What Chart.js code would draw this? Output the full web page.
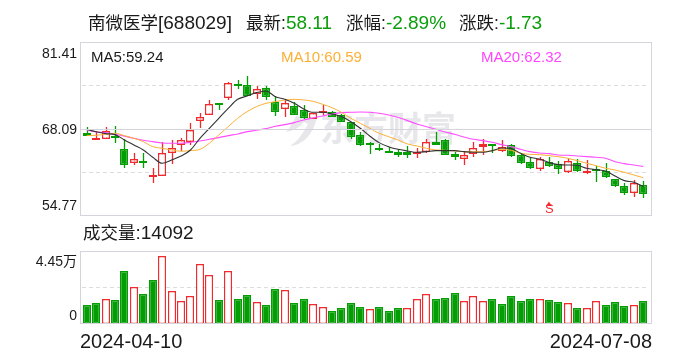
<!DOCTYPE html>
<html>
<head>
<meta charset="utf-8">
<script src="https://cdn.jsdelivr.net/npm/chart.js@4"></script>
<style>
html, body { margin: 0; padding: 0; background: #fff; }
#wrap { position: relative; width: 688px; height: 360px; overflow: hidden; font-family: "Liberation Sans", "Noto Sans CJK SC", sans-serif; color: #1a1a1a; }
#wrap canvas { position: absolute; left: 0; top: 0; }
#wrap span { position: absolute; white-space: nowrap; line-height: 20px; }
.head { font-size: 17.5px; top: 13px; }
.head b { font-size: 19px; font-weight: normal; }
.ma { font-size: 15px; top: 47px; }
b.up { color: #0a9e0a; }
</style>
</head>
<body>
<div id="wrap">
  <canvas id="priceChart" width="688" height="360"></canvas>
  <canvas id="volumeChart" width="688" height="360"></canvas>
  <span class="head" style="left:88px">南微医学<b>[688029]</b></span>
  <span class="head" style="left:246px">最新:<b class="up">58.11</b></span>
  <span class="head" style="left:346px">涨幅:<b class="up">-2.89%</b></span>
  <span class="head" style="left:459px">涨跌:<b class="up">-1.73</b></span>
  <span class="ma" style="left:91px;color:#1a1a1a">MA5:59.24</span>
  <span class="ma" style="left:281px;color:#fbb034">MA10:60.59</span>
  <span class="ma" style="left:481px;color:#ff45ff">MA20:62.32</span>
  <span class="head" style="left:83px;top:223px">成交量<b>:14092</b></span>
</div>
<script>
var dates = ['2024-04-10','2024-04-11','2024-04-12','2024-04-15','2024-04-16','2024-04-17','2024-04-18','2024-04-19','2024-04-22','2024-04-23','2024-04-24','2024-04-25','2024-04-26','2024-04-29','2024-04-30',
  '2024-05-06','2024-05-07','2024-05-08','2024-05-09','2024-05-10','2024-05-13','2024-05-14','2024-05-15','2024-05-16','2024-05-17','2024-05-20','2024-05-21','2024-05-22','2024-05-23','2024-05-24','2024-05-27','2024-05-28','2024-05-29','2024-05-30','2024-05-31',
  '2024-06-03','2024-06-04','2024-06-05','2024-06-06','2024-06-07','2024-06-11','2024-06-12','2024-06-13','2024-06-14','2024-06-17','2024-06-18','2024-06-19','2024-06-20','2024-06-21','2024-06-24','2024-06-25','2024-06-26','2024-06-27','2024-06-28',
  '2024-07-01','2024-07-02','2024-07-03','2024-07-04','2024-07-05','2024-07-08'];

var openPrices = [67.43,66.50,66.50,66.97,64.96,62.91,63.17,60.75,60.81,64.45,65.58,66.14,69.38,70.20,72.10,72.92,75.08,74.87,73.43,74.41,
  72.30,71.12,71.64,71.02,69.58,70.56,70.66,70.25,69.12,67.12,65.89,65.17,64.66,64.55,64.55,64.19,64.60,66.09,66.40,64.25,
  63.42,64.19,65.27,65.79,64.66,65.58,64.04,62.96,61.99,63.06,62.65,61.52,62.81,61.47,61.88,61.68,60.40,59.32,58.29,59.47];
var closePrices = [67.02,66.71,67.74,66.76,62.60,63.42,63.06,60.96,64.35,65.12,66.35,67.94,69.89,71.89,71.84,75.13,74.97,73.18,74.20,72.97,
  70.76,72.05,70.30,69.79,70.51,70.82,70.00,69.22,66.91,65.63,65.68,64.91,64.55,64.14,64.14,64.50,66.04,65.68,64.14,63.83,
  64.04,65.12,65.73,65.68,65.37,63.99,62.91,62.14,63.42,62.45,61.88,63.22,61.68,61.58,61.68,60.75,59.37,58.29,59.83,58.11];
var highPrices = [68.35,67.84,68.35,68.56,66.50,64.35,64.45,62.04,66.14,66.40,66.66,68.97,70.56,72.51,72.10,75.38,75.64,76.26,74.72,74.72,
  73.18,72.56,72.20,71.79,70.51,71.79,70.87,70.46,69.22,67.58,66.14,65.79,65.27,64.96,65.48,65.22,66.55,67.63,66.50,64.60,
  64.60,66.09,66.55,65.79,66.40,65.79,64.19,63.83,63.83,63.83,63.17,63.58,63.47,63.27,62.40,62.81,60.40,59.73,60.24,60.09];
var lowPrices = [67.02,66.50,66.50,65.99,62.14,62.55,62.04,59.83,60.81,62.71,64.71,65.58,68.25,70.20,71.02,72.56,74.25,73.18,72.77,72.56,
  70.10,70.00,70.20,69.58,69.58,70.25,69.89,69.12,66.55,65.48,64.25,64.71,64.45,63.83,63.68,63.68,64.45,65.63,64.09,63.32,
  62.55,63.73,64.09,64.45,64.60,63.73,62.71,61.94,61.68,62.29,61.17,61.37,61.52,61.11,59.98,60.50,59.21,57.98,57.67,57.52];

var ma5 = [68.04,67.68,67.38,67.22,66.40,65.63,64.86,63.73,62.81,63.32,63.94,64.86,66.66,68.20,69.74,71.28,72.66,73.18,73.69,73.95,
  73.07,72.66,72.05,71.17,70.66,70.66,70.40,70.00,69.22,68.20,67.02,65.99,65.37,64.96,64.71,64.50,64.60,64.76,64.76,64.76,
  64.60,64.50,64.50,64.76,65.17,65.07,64.35,63.73,63.47,62.91,62.60,62.55,62.50,62.04,61.83,61.63,60.86,60.14,59.88,59.24];
var ma10 = [67.07,67.12,67.27,67.43,67.07,66.66,66.14,65.37,65.12,64.86,64.66,64.76,64.96,65.89,67.17,68.45,69.74,70.76,71.53,72.05,
  72.30,72.56,72.66,72.56,72.35,71.89,71.38,70.66,69.74,68.97,68.20,67.43,66.91,66.40,65.79,65.48,65.12,64.86,64.81,64.71,
  64.60,64.60,64.60,64.76,64.96,64.81,64.35,64.19,64.14,63.99,63.83,63.58,63.22,62.81,62.45,62.04,61.78,61.42,61.01,60.59];
var ma20 = [67.94,67.63,67.53,67.27,66.97,66.66,66.35,66.14,65.94,65.89,65.89,66.04,66.25,66.50,66.76,67.07,67.32,67.68,67.89,68.15,
  68.51,68.76,69.07,69.48,69.79,70.10,70.40,70.61,70.66,70.71,70.66,70.51,70.25,69.89,69.38,68.86,68.45,68.04,67.63,67.27,
  66.86,66.50,66.30,66.04,65.68,65.37,64.96,64.60,64.40,64.30,64.09,64.04,63.94,63.83,63.73,63.58,63.06,62.76,62.55,62.32];

// volume in shares, 1 = red bar, 0 = green bar
var volumes = [11232,12480,15392,14352,32448,22256,18096,26832,41600,20384,14144,17264,36608,29744,14352,32240,14976,17472,13520,11232,
  21216,21008,12480,14976,12272,10400,7488,9360,12480,9984,9152,9984,7488,9360,9776,15392,18512,14976,15600,18720,
  14144,17264,14144,14976,11856,16848,13728,14976,15392,14352,13104,12896,9360,9776,14144,11232,13104,10608,11648,14092];
var volumeUp = [0,0,1,0,0,1,0,0,1,1,1,1,1,1,0,1,0,0,1,0,0,1,0,0,1,1,0,0,0,0,1,0,0,0,1,1,1,0,0,0,1,1,1,0,0,0,0,0,1,0,0,1,0,1,1,0,0,0,1,0];

var priceTicks = [81.41, 68.09, 54.77];
var priceGrid = [74.75, 61.43];
var volumeTicks = [44500, 0];
var volumeTickLabels = ['4.45万', '0'];
var volumeGrid = [22250];
var signalPrices = [];
signalPrices[49] = 56.46;
var signalText = 'S';

var RED = '#f12a2e', GREEN = '#049d04', FRAME = '#d4d4da', DASH = '#dcdcdc', LABEL = '#1a1a1a';
var LABEL_FONT = '14px "Liberation Sans", "Noto Sans CJK SC", sans-serif';
var DATE_FONT = '20px "Liberation Sans", "Noto Sans CJK SC", sans-serif';

function pairs(a, b) {
  return a.map(function(v, i) { return [v, b[i]]; });
}
function candleColor(i) {
  return closePrices[i] >= openPrices[i] ? RED : GREEN;
}

// keep bars on whole pixels so they stay sharp like the original
var snapBars = {
  id: 'snapBars',
  afterDatasetsUpdate: function(chart) {
    chart.data.datasets.forEach(function(ds, d) {
      if (ds.type !== 'bar') return;
      chart.getDatasetMeta(d).data.forEach(function(el) {
        el.x = Math.round(el.x) + (ds.isWick ? 0.5 : 0);
        el.y = Math.round(el.y);
        el.base = Math.round(el.base);
        if (!ds.isWick && Math.abs(el.base - el.y) < 2) el.base = el.y + 2;
      });
    });
  }
};

// panel frame: sits a little outside the category band
var frame = {
  id: 'frame',
  afterDraw: function(chart) {
    var a = chart.chartArea, c = chart.ctx, y = chart.scales.y;
    c.save();
    c.strokeStyle = FRAME;
    c.lineWidth = 1;
    c.strokeRect(80.5, a.top, 571, a.bottom - a.top);
    if (chart.canvas.id == 'priceChart') {
      var mid = Math.round(y.getPixelForValue(priceTicks[1])) + 0.5;
      c.beginPath(); c.moveTo(80.5, mid); c.lineTo(651.5, mid); c.stroke();
    }
    c.restore();
  }
};

var priceText = {
  id: 'priceText',
  afterDraw: function(chart) {
    var c = chart.ctx, y = chart.scales.y, x = chart.scales.x;
    c.save();
    c.font = LABEL_FONT; c.fillStyle = LABEL; c.textAlign = 'right'; c.textBaseline = 'middle';
    c.fillText(priceTicks[0], 77, y.getPixelForValue(priceTicks[0]) + 12);
    c.fillText(priceTicks[1], 77, y.getPixelForValue(priceTicks[1]) + 1);
    c.fillText(priceTicks[2], 77, y.getPixelForValue(priceTicks[2]) - 9);
    c.font = '13px "Liberation Sans"'; c.fillStyle = RED; c.textAlign = 'center';
    c.fillText(signalText, x.getPixelForValue(49) + 0.5, y.getPixelForValue(signalPrices[49]) + 5);
    c.restore();
  }
};

var watermark = {
  id: 'watermark',
  beforeDatasetsDraw: function(chart) {
    var c = chart.ctx;
    c.save();
    c.fillStyle = '#e7e7eb';
    c.font = 'bold 34px "Noto Sans CJK SC"';
    c.textBaseline = 'middle';
    c.fillText('东方财富', 320, 128);
    c.beginPath();
    c.moveTo(296, 116); c.quadraticCurveTo(290, 128, 286, 132);
    c.quadraticCurveTo(298, 130, 304, 122); c.lineTo(308, 124);
    c.quadraticCurveTo(300, 140, 290, 146); c.quadraticCurveTo(310, 144, 317, 118);
    c.closePath(); c.fill();
    c.restore();
  }
};

var volumeText = {
  id: 'volumeText',
  afterDraw: function(chart) {
    var c = chart.ctx, y = chart.scales.y, a = chart.chartArea;
    c.save();
    c.font = LABEL_FONT; c.fillStyle = LABEL; c.textAlign = 'right'; c.textBaseline = 'middle';
    c.fillText(volumeTickLabels[0], 77, y.getPixelForValue(volumeTicks[0]) + 11);
    c.fillText(volumeTickLabels[1], 77, y.getPixelForValue(volumeTicks[1]) - 7);
    c.font = DATE_FONT; c.textBaseline = 'middle';
    c.textAlign = 'left';
    c.fillText(dates[0], 80, a.bottom + 19);
    c.textAlign = 'right';
    c.fillText(dates[dates.length - 1], 652, a.bottom + 19);
    c.restore();
  }
};

function yAxis(min, max, gridValues) {
  return {
    min: min,
    max: max,
    afterBuildTicks: function(scale) {
      scale.ticks = gridValues.map(function(v) { return { value: v }; });
    },
    ticks: { display: false },
    grid: { color: DASH, drawTicks: false },
    border: { display: false, dash: [4, 3] }
  };
}
var xAxis = { ticks: { display: false }, grid: { display: false, drawTicks: false }, border: { display: false } };

var commonOptions = {
  responsive: false,
  animation: false,
  events: [],
  plugins: { legend: { display: false }, title: { display: false }, tooltip: { enabled: false } }
};

function lineSet(label, values, color, width, order) {
  return { type: 'line', label: label, data: values, borderColor: color, borderWidth: width, pointRadius: 0, cubicInterpolationMode: 'monotone', order: order };
}

new Chart(document.getElementById('priceChart'), {
  data: {
    labels: dates,
    datasets: [
      { type: 'bar', isWick: true, label: 'wick', data: pairs(lowPrices, highPrices), grouped: false, barThickness: 1.3, borderWidth: 0, inflateAmount: 0,
        backgroundColor: dates.map(function(d, i) { return candleColor(i); }), order: 5 },
      { type: 'bar', label: 'body', data: pairs(openPrices, closePrices), grouped: false, barThickness: 8, borderWidth: 1.4, borderSkipped: false, inflateAmount: 0,
        borderColor: dates.map(function(d, i) { return candleColor(i); }),
        backgroundColor: dates.map(function(d, i) { return candleColor(i) == RED ? '#fff' : GREEN; }), order: 4 },
      lineSet('MA20', ma20, '#ff4dff', 1.1, 3),
      lineSet('MA10', ma10, '#fbb034', 1, 2),
      lineSet('MA5', ma5, '#333', 1.1, 1),
      { type: 'line', label: 'signal', data: signalPrices, showLine: false, pointStyle: 'triangle', pointRadius: 3, pointBackgroundColor: RED, pointBorderWidth: 0, order: 0 }
    ]
  },
  options: Object.assign({}, commonOptions, {
    layout: { padding: { left: 82, right: 40, top: 42.5, bottom: 144.5 } },
    scales: { x: xAxis, y: yAxis(priceTicks[2], priceTicks[0], priceGrid) }
  }),
  plugins: [snapBars, watermark, frame, priceText]
});

new Chart(document.getElementById('volumeChart'), {
  data: {
    labels: dates,
    datasets: [
      { type: 'bar', label: 'volume', data: volumes, grouped: false, barThickness: 8, borderWidth: 1.4, borderSkipped: false, inflateAmount: 0,
        borderColor: volumeUp.map(function(u) { return u ? RED : GREEN; }),
        backgroundColor: volumeUp.map(function(u) { return u ? '#fff' : GREEN; }) }
    ]
  },
  options: Object.assign({}, commonOptions, {
    layout: { padding: { left: 82, right: 40, top: 251.5, bottom: 36.5 } },
    scales: { x: xAxis, y: yAxis(volumeTicks[1], volumeTicks[0], volumeGrid) }
  }),
  plugins: [snapBars, frame, volumeText]
});
</script>
</body>
</html>
